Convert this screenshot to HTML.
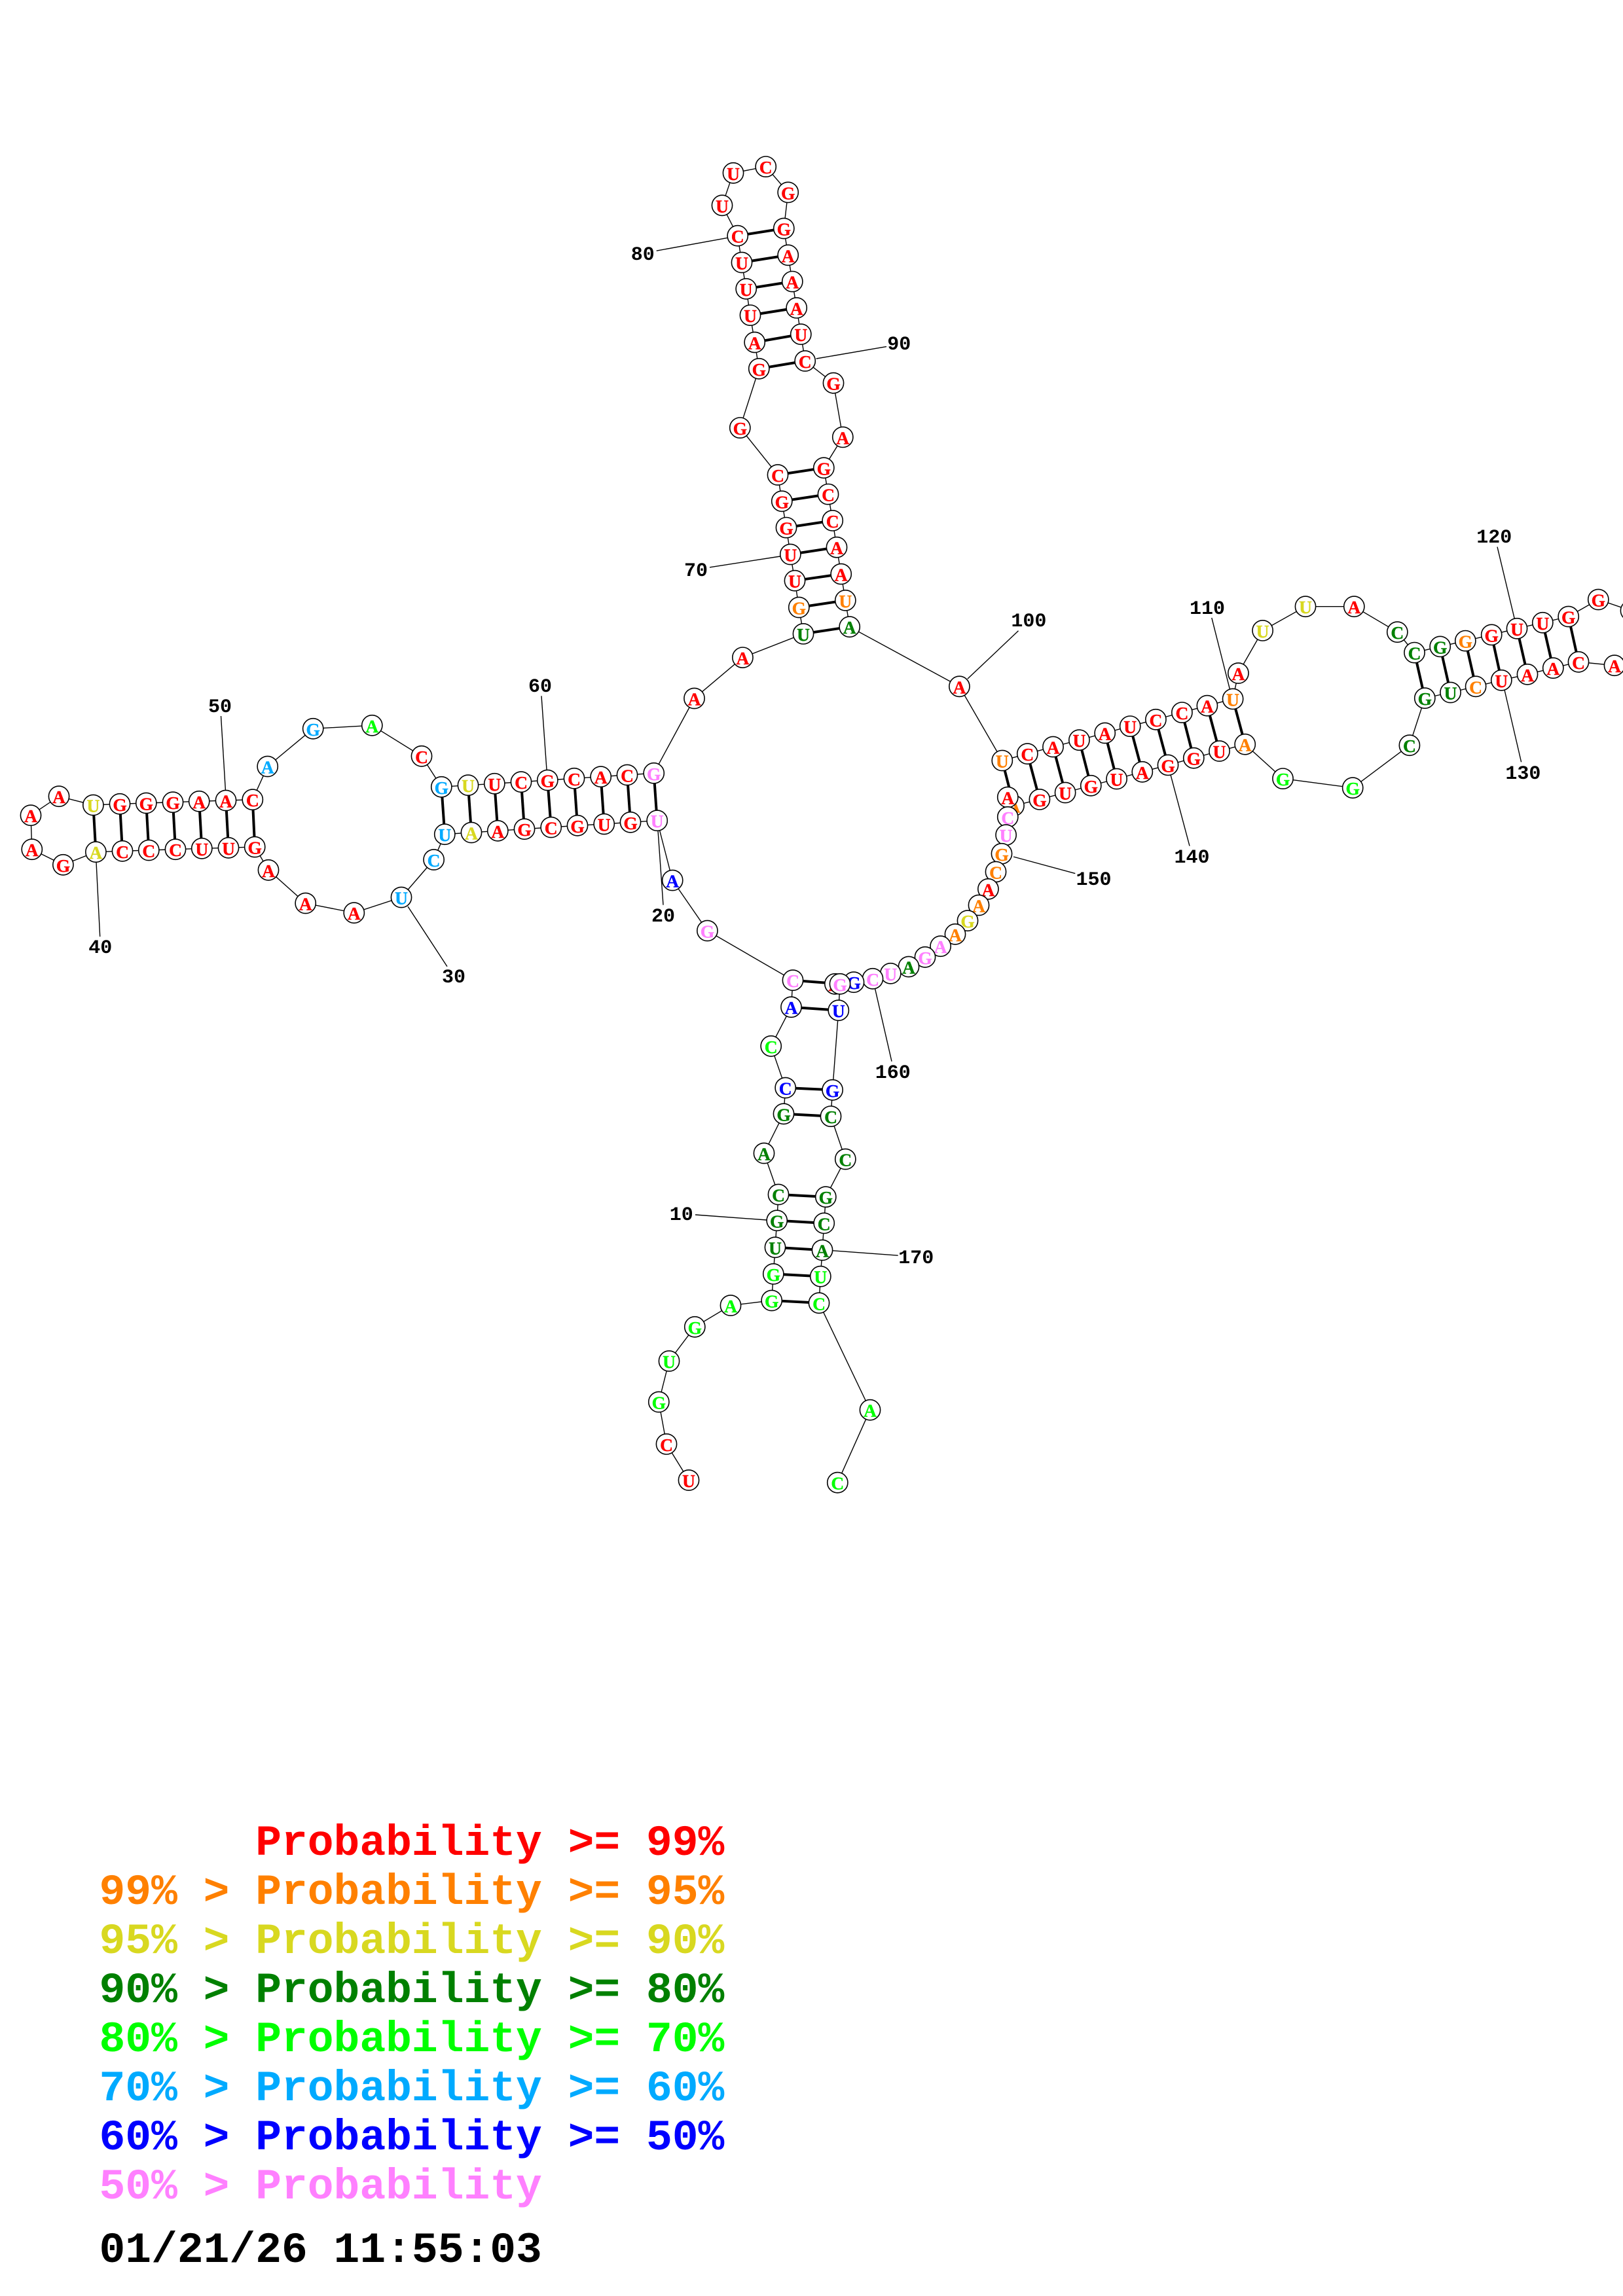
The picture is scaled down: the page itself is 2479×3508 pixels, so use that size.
<!DOCTYPE html>
<html><head><meta charset="utf-8"><style>
html,body{margin:0;padding:0;background:#fff}
svg{display:block}
.n circle{fill:#fff;stroke:#000;stroke-width:1.6}
.n text{font:bold 27.5px "Liberation Serif",serif;text-anchor:middle;stroke-width:.4}
.n .r{stroke:#ff0000}.n .o{stroke:#ff8000}.n .y{stroke:#d8d820}.n .d{stroke:#008000}.n .l{stroke:#00ff00}.n .s{stroke:#00aaff}.n .u{stroke:#0000ff}.n .p{stroke:#ff80ff}
.b{stroke:#000;stroke-width:4;fill:none}
.t{stroke:#000;stroke-width:1.4;fill:none}
.lab{font:bold 30px "Liberation Mono",monospace;text-anchor:middle;fill:#000}
.leg{font:bold 66.3px "Liberation Mono",monospace;white-space:pre}
.r{fill:#ff0000}.o{fill:#ff8000}.y{fill:#d8d820}.d{fill:#008000}.l{fill:#00ff00}.s{fill:#00aaff}.u{fill:#0000ff}.p{fill:#ff80ff}.k{fill:#000}
</style></head><body>
<svg xmlns="http://www.w3.org/2000/svg" width="2479" height="3508" viewBox="0 0 2479 3508">
<rect width="2479" height="3508" fill="#fff"/>
<polyline class="t" points="1052,2261.5 1018,2206.4 1006.3,2142 1022,2079.5 1061.3,2027.3 1116,1994.5 1178.7,1987 1181.3,1946.4 1184,1905.8 1186.7,1864.8 1189,1825 1167,1762 1197,1701.8 1199.7,1662 1177.7,1598.3 1208.5,1538.7 1211,1497.7 1080.4,1422 1027.2,1345 1003.7,1253.7 963,1256.3 922.7,1259 882,1261.3 841.7,1264 801,1266.7 760.3,1269.3 720,1272 679.3,1274.7 662.6,1313.5 613,1371 540.8,1394.7 466.7,1380 410,1329.3 389.2,1294 349,1295.3 308.3,1296.3 268,1297.7 227.3,1299 187,1300.3 146.4,1301.7 96.4,1321.3 48.8,1297.7 47,1245.7 90,1216.7 142.4,1230 183,1228.3 223.3,1227 264,1225.7 304.2,1224.3 345,1223 385.8,1221.7 408.7,1171 478.2,1113.3 568.3,1108.3 644,1155.3 674.3,1202.3 715,1199.7 755.3,1197.3 796,1194.7 836.3,1192 877,1189.3 917.7,1186.7 958,1184 998.7,1181.3 1060.5,1067 1134.4,1004.6 1227,968.4 1220.3,928 1214,887.2 1207.3,847 1201,806.1 1194.3,765.8 1188,725.5 1130.3,653.6 1159.3,563.3 1152.7,523 1146,481.6 1139.7,441.3 1133,401 1126.7,360.2 1103,313.8 1120,264.3 1169.7,254.6 1203.7,293.9 1197.3,349 1203.7,389.8 1210.3,430.1 1216.7,470.4 1223.3,510.7 1229.7,551.5 1273,585.2 1287.3,667.9 1258.3,714.8 1265,755.1 1271.7,795.4 1278,836.2 1284.7,877 1291.3,917.3 1297.7,957.7 1465.4,1048.8 1530.8,1162 1569.3,1151.7 1608.5,1141 1648.4,1130.7 1687.7,1120 1726.2,1109.6 1765.4,1099.3 1805.4,1088.6 1843.9,1078.2 1883.1,1067.9 1891.4,1028.5 1928.6,963.4 1994,926.7 2068.3,926.7 2134.3,965.7 2160.5,997.1 2199.7,987.9 2238.3,979.1 2278.2,969.9 2317,960.3 2356.3,951.3 2395.7,942 2441.3,916 2491,933 2520,975 2466,1016.7 2411,1011.3 2372.3,1020.7 2333,1030.3 2293.3,1039.3 2254.1,1048.8 2215.5,1058 2176.3,1066.7 2152.9,1138.7 2066.2,1203.7 1959.5,1189.6 1901.7,1137.2 1862.5,1147.5 1823.3,1158.2 1784,1168.9 1744.8,1179.3 1705.6,1190 1666.3,1200.3 1627.1,1211 1587.9,1221.4 1548.5,1231 1539.3,1218 1539.3,1248.3 1536.6,1275.7 1530,1304.3 1521,1332 1509.4,1358.3 1495,1383 1478,1406.7 1459,1427.3 1436.6,1445.7 1413,1462.3 1388,1477 1360.3,1487.3 1333,1495.3 1304,1500.7 1275.4,1503.3 1283,1503.3 1280.8,1543.7 1271.6,1665.3 1269,1705.6 1291.3,1771 1261.3,1828.7 1258.7,1868.9 1256,1910 1253.3,1950.2 1251,1990.8 1329,2154.2 1279.3,2265.2"/>
<g class="b">
<line x1="1178.7" y1="1987" x2="1251" y2="1990.8"/><line x1="1181.3" y1="1946.4" x2="1253.3" y2="1950.2"/><line x1="1184" y1="1905.8" x2="1256" y2="1910"/><line x1="1186.7" y1="1864.8" x2="1258.7" y2="1868.9"/><line x1="1189" y1="1825" x2="1261.3" y2="1828.7"/><line x1="1197" y1="1701.8" x2="1269" y2="1705.6"/><line x1="1199.7" y1="1662" x2="1271.6" y2="1665.3"/><line x1="1208.5" y1="1538.7" x2="1280.8" y2="1543.7"/><line x1="1211" y1="1497.7" x2="1283" y2="1503.3"/>
<line x1="1003.7" y1="1253.7" x2="998.7" y2="1181.3"/><line x1="963" y1="1256.3" x2="958" y2="1184"/><line x1="922.7" y1="1259" x2="917.7" y2="1186.7"/><line x1="882" y1="1261.3" x2="877" y2="1189.3"/><line x1="841.7" y1="1264" x2="836.3" y2="1192"/><line x1="801" y1="1266.7" x2="796" y2="1194.7"/><line x1="760.3" y1="1269.3" x2="755.3" y2="1197.3"/><line x1="720" y1="1272" x2="715" y2="1199.7"/><line x1="679.3" y1="1274.7" x2="674.3" y2="1202.3"/>
<line x1="389.2" y1="1294" x2="385.8" y2="1221.7"/><line x1="349" y1="1295.3" x2="345" y2="1223"/><line x1="308.3" y1="1296.3" x2="304.2" y2="1224.3"/><line x1="268" y1="1297.7" x2="264" y2="1225.7"/><line x1="227.3" y1="1299" x2="223.3" y2="1227"/><line x1="187" y1="1300.3" x2="183" y2="1228.3"/><line x1="146.4" y1="1301.7" x2="142.4" y2="1230"/>
<line x1="1227" y1="968.4" x2="1297.7" y2="957.7"/><line x1="1220.3" y1="928" x2="1291.3" y2="917.3"/><line x1="1214" y1="887.2" x2="1284.7" y2="877"/><line x1="1207.3" y1="847" x2="1278" y2="836.2"/><line x1="1201" y1="806.1" x2="1271.7" y2="795.4"/><line x1="1194.3" y1="765.8" x2="1265" y2="755.1"/><line x1="1188" y1="725.5" x2="1258.3" y2="714.8"/>
<line x1="1159.3" y1="563.3" x2="1229.7" y2="551.5"/><line x1="1152.7" y1="523" x2="1223.3" y2="510.7"/><line x1="1146" y1="481.6" x2="1216.7" y2="470.4"/><line x1="1139.7" y1="441.3" x2="1210.3" y2="430.1"/><line x1="1133" y1="401" x2="1203.7" y2="389.8"/><line x1="1126.7" y1="360.2" x2="1197.3" y2="349"/>
<line x1="1530.8" y1="1162" x2="1548.5" y2="1231"/><line x1="1569.3" y1="1151.7" x2="1587.9" y2="1221.4"/><line x1="1608.5" y1="1141" x2="1627.1" y2="1211"/><line x1="1648.4" y1="1130.7" x2="1666.3" y2="1200.3"/><line x1="1687.7" y1="1120" x2="1705.6" y2="1190"/><line x1="1726.2" y1="1109.6" x2="1744.8" y2="1179.3"/><line x1="1765.4" y1="1099.3" x2="1784" y2="1168.9"/><line x1="1805.4" y1="1088.6" x2="1823.3" y2="1158.2"/><line x1="1843.9" y1="1078.2" x2="1862.5" y2="1147.5"/><line x1="1883.1" y1="1067.9" x2="1901.7" y2="1137.2"/>
<line x1="2160.5" y1="997.1" x2="2176.3" y2="1066.7"/><line x1="2199.7" y1="987.9" x2="2215.5" y2="1058"/><line x1="2238.3" y1="979.1" x2="2254.1" y2="1048.8"/><line x1="2278.2" y1="969.9" x2="2293.3" y2="1039.3"/><line x1="2317" y1="960.3" x2="2333" y2="1030.3"/><line x1="2356.3" y1="951.3" x2="2372.3" y2="1020.7"/><line x1="2395.7" y1="942" x2="2411" y2="1011.3"/>
</g>
<g class="t">
<line x1="1062" y1="1856" x2="1171" y2="1864"/><line x1="1005" y1="1269" x2="1013" y2="1382.7"/><line x1="623" y1="1385" x2="683" y2="1476.7"/><line x1="147" y1="1317" x2="152.7" y2="1431"/><line x1="337.5" y1="1094" x2="344.4" y2="1207.3"/><line x1="827" y1="1063.3" x2="835" y2="1176"/><line x1="1084" y1="866.8" x2="1191.7" y2="850"/><line x1="1002.7" y1="383.2" x2="1111.7" y2="363.3"/><line x1="1246.7" y1="548" x2="1354" y2="529.6"/><line x1="1555.5" y1="963.8" x2="1477.8" y2="1037.3"/><line x1="1850.8" y1="943.9" x2="1878.3" y2="1052.6"/><line x1="2287" y1="835.6" x2="2313.3" y2="945.4"/><line x1="2298.1" y1="1054.5" x2="2323.6" y2="1164.3"/><line x1="1788.2" y1="1184.6" x2="1817" y2="1292.5"/><line x1="1548" y1="1309" x2="1642.3" y2="1334.6"/><line x1="1336.6" y1="1510.7" x2="1362" y2="1621.7"/><line x1="1271.7" y1="1910.8" x2="1371.7" y2="1918.2"/>
</g>
<g class="n">
<g transform="translate(1052 2261.5)"><circle r="15.6"/><text y="10.5" class="r">U</text></g>
<g transform="translate(1018 2206.4)"><circle r="15.6"/><text y="10.5" class="r">C</text></g>
<g transform="translate(1006.3 2142)"><circle r="15.6"/><text y="10.5" class="l">G</text></g>
<g transform="translate(1022 2079.5)"><circle r="15.6"/><text y="10.5" class="l">U</text></g>
<g transform="translate(1061.3 2027.3)"><circle r="15.6"/><text y="10.5" class="l">G</text></g>
<g transform="translate(1116 1994.5)"><circle r="15.6"/><text y="10.5" class="l">A</text></g>
<g transform="translate(1178.7 1987)"><circle r="15.6"/><text y="10.5" class="l">G</text></g>
<g transform="translate(1181.3 1946.4)"><circle r="15.6"/><text y="10.5" class="l">G</text></g>
<g transform="translate(1184 1905.8)"><circle r="15.6"/><text y="10.5" class="d">U</text></g>
<g transform="translate(1186.7 1864.8)"><circle r="15.6"/><text y="10.5" class="d">G</text></g>
<g transform="translate(1189 1825)"><circle r="15.6"/><text y="10.5" class="d">C</text></g>
<g transform="translate(1167 1762)"><circle r="15.6"/><text y="10.5" class="d">A</text></g>
<g transform="translate(1197 1701.8)"><circle r="15.6"/><text y="10.5" class="d">G</text></g>
<g transform="translate(1199.7 1662)"><circle r="15.6"/><text y="10.5" class="u">C</text></g>
<g transform="translate(1177.7 1598.3)"><circle r="15.6"/><text y="10.5" class="l">C</text></g>
<g transform="translate(1208.5 1538.7)"><circle r="15.6"/><text y="10.5" class="u">A</text></g>
<g transform="translate(1211 1497.7)"><circle r="15.6"/><text y="10.5" class="p">C</text></g>
<g transform="translate(1080.4 1422)"><circle r="15.6"/><text y="10.5" class="p">G</text></g>
<g transform="translate(1027.2 1345)"><circle r="15.6"/><text y="10.5" class="u">A</text></g>
<g transform="translate(1003.7 1253.7)"><circle r="15.6"/><text y="10.5" class="p">U</text></g>
<g transform="translate(963 1256.3)"><circle r="15.6"/><text y="10.5" class="r">G</text></g>
<g transform="translate(922.7 1259)"><circle r="15.6"/><text y="10.5" class="r">U</text></g>
<g transform="translate(882 1261.3)"><circle r="15.6"/><text y="10.5" class="r">G</text></g>
<g transform="translate(841.7 1264)"><circle r="15.6"/><text y="10.5" class="r">C</text></g>
<g transform="translate(801 1266.7)"><circle r="15.6"/><text y="10.5" class="r">G</text></g>
<g transform="translate(760.3 1269.3)"><circle r="15.6"/><text y="10.5" class="r">A</text></g>
<g transform="translate(720 1272)"><circle r="15.6"/><text y="10.5" class="y">A</text></g>
<g transform="translate(679.3 1274.7)"><circle r="15.6"/><text y="10.5" class="s">U</text></g>
<g transform="translate(662.6 1313.5)"><circle r="15.6"/><text y="10.5" class="s">C</text></g>
<g transform="translate(613 1371)"><circle r="15.6"/><text y="10.5" class="s">U</text></g>
<g transform="translate(540.8 1394.7)"><circle r="15.6"/><text y="10.5" class="r">A</text></g>
<g transform="translate(466.7 1380)"><circle r="15.6"/><text y="10.5" class="r">A</text></g>
<g transform="translate(410 1329.3)"><circle r="15.6"/><text y="10.5" class="r">A</text></g>
<g transform="translate(389.2 1294)"><circle r="15.6"/><text y="10.5" class="r">G</text></g>
<g transform="translate(349 1295.3)"><circle r="15.6"/><text y="10.5" class="r">U</text></g>
<g transform="translate(308.3 1296.3)"><circle r="15.6"/><text y="10.5" class="r">U</text></g>
<g transform="translate(268 1297.7)"><circle r="15.6"/><text y="10.5" class="r">C</text></g>
<g transform="translate(227.3 1299)"><circle r="15.6"/><text y="10.5" class="r">C</text></g>
<g transform="translate(187 1300.3)"><circle r="15.6"/><text y="10.5" class="r">C</text></g>
<g transform="translate(146.4 1301.7)"><circle r="15.6"/><text y="10.5" class="y">A</text></g>
<g transform="translate(96.4 1321.3)"><circle r="15.6"/><text y="10.5" class="r">G</text></g>
<g transform="translate(48.8 1297.7)"><circle r="15.6"/><text y="10.5" class="r">A</text></g>
<g transform="translate(47 1245.7)"><circle r="15.6"/><text y="10.5" class="r">A</text></g>
<g transform="translate(90 1216.7)"><circle r="15.6"/><text y="10.5" class="r">A</text></g>
<g transform="translate(142.4 1230)"><circle r="15.6"/><text y="10.5" class="y">U</text></g>
<g transform="translate(183 1228.3)"><circle r="15.6"/><text y="10.5" class="r">G</text></g>
<g transform="translate(223.3 1227)"><circle r="15.6"/><text y="10.5" class="r">G</text></g>
<g transform="translate(264 1225.7)"><circle r="15.6"/><text y="10.5" class="r">G</text></g>
<g transform="translate(304.2 1224.3)"><circle r="15.6"/><text y="10.5" class="r">A</text></g>
<g transform="translate(345 1223)"><circle r="15.6"/><text y="10.5" class="r">A</text></g>
<g transform="translate(385.8 1221.7)"><circle r="15.6"/><text y="10.5" class="r">C</text></g>
<g transform="translate(408.7 1171)"><circle r="15.6"/><text y="10.5" class="s">A</text></g>
<g transform="translate(478.2 1113.3)"><circle r="15.6"/><text y="10.5" class="s">G</text></g>
<g transform="translate(568.3 1108.3)"><circle r="15.6"/><text y="10.5" class="l">A</text></g>
<g transform="translate(644 1155.3)"><circle r="15.6"/><text y="10.5" class="r">C</text></g>
<g transform="translate(674.3 1202.3)"><circle r="15.6"/><text y="10.5" class="s">G</text></g>
<g transform="translate(715 1199.7)"><circle r="15.6"/><text y="10.5" class="y">U</text></g>
<g transform="translate(755.3 1197.3)"><circle r="15.6"/><text y="10.5" class="r">U</text></g>
<g transform="translate(796 1194.7)"><circle r="15.6"/><text y="10.5" class="r">C</text></g>
<g transform="translate(836.3 1192)"><circle r="15.6"/><text y="10.5" class="r">G</text></g>
<g transform="translate(877 1189.3)"><circle r="15.6"/><text y="10.5" class="r">C</text></g>
<g transform="translate(917.7 1186.7)"><circle r="15.6"/><text y="10.5" class="r">A</text></g>
<g transform="translate(958 1184)"><circle r="15.6"/><text y="10.5" class="r">C</text></g>
<g transform="translate(998.7 1181.3)"><circle r="15.6"/><text y="10.5" class="p">G</text></g>
<g transform="translate(1060.5 1067)"><circle r="15.6"/><text y="10.5" class="r">A</text></g>
<g transform="translate(1134.4 1004.6)"><circle r="15.6"/><text y="10.5" class="r">A</text></g>
<g transform="translate(1227 968.4)"><circle r="15.6"/><text y="10.5" class="d">U</text></g>
<g transform="translate(1220.3 928)"><circle r="15.6"/><text y="10.5" class="o">G</text></g>
<g transform="translate(1214 887.2)"><circle r="15.6"/><text y="10.5" class="r">U</text></g>
<g transform="translate(1207.3 847)"><circle r="15.6"/><text y="10.5" class="r">U</text></g>
<g transform="translate(1201 806.1)"><circle r="15.6"/><text y="10.5" class="r">G</text></g>
<g transform="translate(1194.3 765.8)"><circle r="15.6"/><text y="10.5" class="r">G</text></g>
<g transform="translate(1188 725.5)"><circle r="15.6"/><text y="10.5" class="r">C</text></g>
<g transform="translate(1130.3 653.6)"><circle r="15.6"/><text y="10.5" class="r">G</text></g>
<g transform="translate(1159.3 563.3)"><circle r="15.6"/><text y="10.5" class="r">G</text></g>
<g transform="translate(1152.7 523)"><circle r="15.6"/><text y="10.5" class="r">A</text></g>
<g transform="translate(1146 481.6)"><circle r="15.6"/><text y="10.5" class="r">U</text></g>
<g transform="translate(1139.7 441.3)"><circle r="15.6"/><text y="10.5" class="r">U</text></g>
<g transform="translate(1133 401)"><circle r="15.6"/><text y="10.5" class="r">U</text></g>
<g transform="translate(1126.7 360.2)"><circle r="15.6"/><text y="10.5" class="r">C</text></g>
<g transform="translate(1103 313.8)"><circle r="15.6"/><text y="10.5" class="r">U</text></g>
<g transform="translate(1120 264.3)"><circle r="15.6"/><text y="10.5" class="r">U</text></g>
<g transform="translate(1169.7 254.6)"><circle r="15.6"/><text y="10.5" class="r">C</text></g>
<g transform="translate(1203.7 293.9)"><circle r="15.6"/><text y="10.5" class="r">G</text></g>
<g transform="translate(1197.3 349)"><circle r="15.6"/><text y="10.5" class="r">G</text></g>
<g transform="translate(1203.7 389.8)"><circle r="15.6"/><text y="10.5" class="r">A</text></g>
<g transform="translate(1210.3 430.1)"><circle r="15.6"/><text y="10.5" class="r">A</text></g>
<g transform="translate(1216.7 470.4)"><circle r="15.6"/><text y="10.5" class="r">A</text></g>
<g transform="translate(1223.3 510.7)"><circle r="15.6"/><text y="10.5" class="r">U</text></g>
<g transform="translate(1229.7 551.5)"><circle r="15.6"/><text y="10.5" class="r">C</text></g>
<g transform="translate(1273 585.2)"><circle r="15.6"/><text y="10.5" class="r">G</text></g>
<g transform="translate(1287.3 667.9)"><circle r="15.6"/><text y="10.5" class="r">A</text></g>
<g transform="translate(1258.3 714.8)"><circle r="15.6"/><text y="10.5" class="r">G</text></g>
<g transform="translate(1265 755.1)"><circle r="15.6"/><text y="10.5" class="r">C</text></g>
<g transform="translate(1271.7 795.4)"><circle r="15.6"/><text y="10.5" class="r">C</text></g>
<g transform="translate(1278 836.2)"><circle r="15.6"/><text y="10.5" class="r">A</text></g>
<g transform="translate(1284.7 877)"><circle r="15.6"/><text y="10.5" class="r">A</text></g>
<g transform="translate(1291.3 917.3)"><circle r="15.6"/><text y="10.5" class="o">U</text></g>
<g transform="translate(1297.7 957.7)"><circle r="15.6"/><text y="10.5" class="d">A</text></g>
<g transform="translate(1465.4 1048.8)"><circle r="15.6"/><text y="10.5" class="r">A</text></g>
<g transform="translate(1530.8 1162)"><circle r="15.6"/><text y="10.5" class="o">U</text></g>
<g transform="translate(1569.3 1151.7)"><circle r="15.6"/><text y="10.5" class="r">C</text></g>
<g transform="translate(1608.5 1141)"><circle r="15.6"/><text y="10.5" class="r">A</text></g>
<g transform="translate(1648.4 1130.7)"><circle r="15.6"/><text y="10.5" class="r">U</text></g>
<g transform="translate(1687.7 1120)"><circle r="15.6"/><text y="10.5" class="r">A</text></g>
<g transform="translate(1726.2 1109.6)"><circle r="15.6"/><text y="10.5" class="r">U</text></g>
<g transform="translate(1765.4 1099.3)"><circle r="15.6"/><text y="10.5" class="r">C</text></g>
<g transform="translate(1805.4 1088.6)"><circle r="15.6"/><text y="10.5" class="r">C</text></g>
<g transform="translate(1843.9 1078.2)"><circle r="15.6"/><text y="10.5" class="r">A</text></g>
<g transform="translate(1883.1 1067.9)"><circle r="15.6"/><text y="10.5" class="o">U</text></g>
<g transform="translate(1891.4 1028.5)"><circle r="15.6"/><text y="10.5" class="r">A</text></g>
<g transform="translate(1928.6 963.4)"><circle r="15.6"/><text y="10.5" class="y">U</text></g>
<g transform="translate(1994 926.7)"><circle r="15.6"/><text y="10.5" class="y">U</text></g>
<g transform="translate(2068.3 926.7)"><circle r="15.6"/><text y="10.5" class="r">A</text></g>
<g transform="translate(2134.3 965.7)"><circle r="15.6"/><text y="10.5" class="d">C</text></g>
<g transform="translate(2160.5 997.1)"><circle r="15.6"/><text y="10.5" class="d">C</text></g>
<g transform="translate(2199.7 987.9)"><circle r="15.6"/><text y="10.5" class="d">G</text></g>
<g transform="translate(2238.3 979.1)"><circle r="15.6"/><text y="10.5" class="o">G</text></g>
<g transform="translate(2278.2 969.9)"><circle r="15.6"/><text y="10.5" class="r">G</text></g>
<g transform="translate(2317 960.3)"><circle r="15.6"/><text y="10.5" class="r">U</text></g>
<g transform="translate(2356.3 951.3)"><circle r="15.6"/><text y="10.5" class="r">U</text></g>
<g transform="translate(2395.7 942)"><circle r="15.6"/><text y="10.5" class="r">G</text></g>
<g transform="translate(2441.3 916)"><circle r="15.6"/><text y="10.5" class="r">G</text></g>
<g transform="translate(2491 933)"><circle r="15.6"/><text y="10.5" class="r">C</text></g>
<g transform="translate(2466 1016.7)"><circle r="15.6"/><text y="10.5" class="r">A</text></g>
<g transform="translate(2411 1011.3)"><circle r="15.6"/><text y="10.5" class="r">C</text></g>
<g transform="translate(2372.3 1020.7)"><circle r="15.6"/><text y="10.5" class="r">A</text></g>
<g transform="translate(2333 1030.3)"><circle r="15.6"/><text y="10.5" class="r">A</text></g>
<g transform="translate(2293.3 1039.3)"><circle r="15.6"/><text y="10.5" class="r">U</text></g>
<g transform="translate(2254.1 1048.8)"><circle r="15.6"/><text y="10.5" class="o">C</text></g>
<g transform="translate(2215.5 1058)"><circle r="15.6"/><text y="10.5" class="d">U</text></g>
<g transform="translate(2176.3 1066.7)"><circle r="15.6"/><text y="10.5" class="d">G</text></g>
<g transform="translate(2152.9 1138.7)"><circle r="15.6"/><text y="10.5" class="d">C</text></g>
<g transform="translate(2066.2 1203.7)"><circle r="15.6"/><text y="10.5" class="l">G</text></g>
<g transform="translate(1959.5 1189.6)"><circle r="15.6"/><text y="10.5" class="l">G</text></g>
<g transform="translate(1901.7 1137.2)"><circle r="15.6"/><text y="10.5" class="o">A</text></g>
<g transform="translate(1862.5 1147.5)"><circle r="15.6"/><text y="10.5" class="r">U</text></g>
<g transform="translate(1823.3 1158.2)"><circle r="15.6"/><text y="10.5" class="r">G</text></g>
<g transform="translate(1784 1168.9)"><circle r="15.6"/><text y="10.5" class="r">G</text></g>
<g transform="translate(1744.8 1179.3)"><circle r="15.6"/><text y="10.5" class="r">A</text></g>
<g transform="translate(1705.6 1190)"><circle r="15.6"/><text y="10.5" class="r">U</text></g>
<g transform="translate(1666.3 1200.3)"><circle r="15.6"/><text y="10.5" class="r">G</text></g>
<g transform="translate(1627.1 1211)"><circle r="15.6"/><text y="10.5" class="r">U</text></g>
<g transform="translate(1587.9 1221.4)"><circle r="15.6"/><text y="10.5" class="r">G</text></g>
<g transform="translate(1548.5 1231)"><circle r="15.6"/><text y="10.5" class="o">A</text></g>
<g transform="translate(1539.3 1218)"><circle r="15.6"/><text y="10.5" class="r">A</text></g>
<g transform="translate(1539.3 1248.3)"><circle r="15.6"/><text y="10.5" class="p">C</text></g>
<g transform="translate(1536.6 1275.7)"><circle r="15.6"/><text y="10.5" class="p">U</text></g>
<g transform="translate(1530 1304.3)"><circle r="15.6"/><text y="10.5" class="o">G</text></g>
<g transform="translate(1521 1332)"><circle r="15.6"/><text y="10.5" class="o">C</text></g>
<g transform="translate(1509.4 1358.3)"><circle r="15.6"/><text y="10.5" class="r">A</text></g>
<g transform="translate(1495 1383)"><circle r="15.6"/><text y="10.5" class="o">A</text></g>
<g transform="translate(1478 1406.7)"><circle r="15.6"/><text y="10.5" class="y">G</text></g>
<g transform="translate(1459 1427.3)"><circle r="15.6"/><text y="10.5" class="o">A</text></g>
<g transform="translate(1436.6 1445.7)"><circle r="15.6"/><text y="10.5" class="p">A</text></g>
<g transform="translate(1413 1462.3)"><circle r="15.6"/><text y="10.5" class="p">G</text></g>
<g transform="translate(1388 1477)"><circle r="15.6"/><text y="10.5" class="d">A</text></g>
<g transform="translate(1360.3 1487.3)"><circle r="15.6"/><text y="10.5" class="p">U</text></g>
<g transform="translate(1333 1495.3)"><circle r="15.6"/><text y="10.5" class="p">C</text></g>
<g transform="translate(1304 1500.7)"><circle r="15.6"/><text y="10.5" class="u">G</text></g>
<g transform="translate(1275.4 1503.3)"><circle r="15.6"/><text y="10.5" class="r">A</text></g>
<g transform="translate(1283 1503.3)"><circle r="15.6"/><text y="10.5" class="p">G</text></g>
<g transform="translate(1280.8 1543.7)"><circle r="15.6"/><text y="10.5" class="u">U</text></g>
<g transform="translate(1271.6 1665.3)"><circle r="15.6"/><text y="10.5" class="u">G</text></g>
<g transform="translate(1269 1705.6)"><circle r="15.6"/><text y="10.5" class="d">C</text></g>
<g transform="translate(1291.3 1771)"><circle r="15.6"/><text y="10.5" class="d">C</text></g>
<g transform="translate(1261.3 1828.7)"><circle r="15.6"/><text y="10.5" class="d">G</text></g>
<g transform="translate(1258.7 1868.9)"><circle r="15.6"/><text y="10.5" class="d">C</text></g>
<g transform="translate(1256 1910)"><circle r="15.6"/><text y="10.5" class="d">A</text></g>
<g transform="translate(1253.3 1950.2)"><circle r="15.6"/><text y="10.5" class="l">U</text></g>
<g transform="translate(1251 1990.8)"><circle r="15.6"/><text y="10.5" class="l">C</text></g>
<g transform="translate(1329 2154.2)"><circle r="15.6"/><text y="10.5" class="l">A</text></g>
<g transform="translate(1279.3 2265.2)"><circle r="15.6"/><text y="10.5" class="l">C</text></g>
</g>
<g class="lab">
<text x="1040.7" y="1864">10</text><text x="1013" y="1408">20</text><text x="693" y="1501">30</text><text x="153.3" y="1456">40</text><text x="336" y="1088">50</text><text x="825" y="1057">60</text><text x="1063" y="880">70</text><text x="981.7" y="397">80</text><text x="1373.3" y="534">90</text><text x="1571.4" y="957">100</text><text x="1844" y="938">110</text><text x="2282.3" y="829">120</text><text x="2326.4" y="1190">130</text><text x="1820.5" y="1318">140</text><text x="1670.5" y="1352">150</text><text x="1363.8" y="1647">160</text><text x="1399.3" y="1930">170</text>
</g>
<g class="leg">
<text x="151.5" y="2834" class="r" xml:space="preserve">      Probability &gt;= 99%</text>
<text x="151.5" y="2909" class="o" xml:space="preserve">99% &gt; Probability &gt;= 95%</text>
<text x="151.5" y="2984" class="y" xml:space="preserve">95% &gt; Probability &gt;= 90%</text>
<text x="151.5" y="3059" class="d" xml:space="preserve">90% &gt; Probability &gt;= 80%</text>
<text x="151.5" y="3134" class="l" xml:space="preserve">80% &gt; Probability &gt;= 70%</text>
<text x="151.5" y="3209" class="s" xml:space="preserve">70% &gt; Probability &gt;= 60%</text>
<text x="151.5" y="3284" class="u" xml:space="preserve">60% &gt; Probability &gt;= 50%</text>
<text x="151.5" y="3359" class="p" xml:space="preserve">50% &gt; Probability</text>
<text x="151.5" y="3456" class="k" xml:space="preserve">01/21/26 11:55:03</text>
</g>
</svg>
</body></html>
